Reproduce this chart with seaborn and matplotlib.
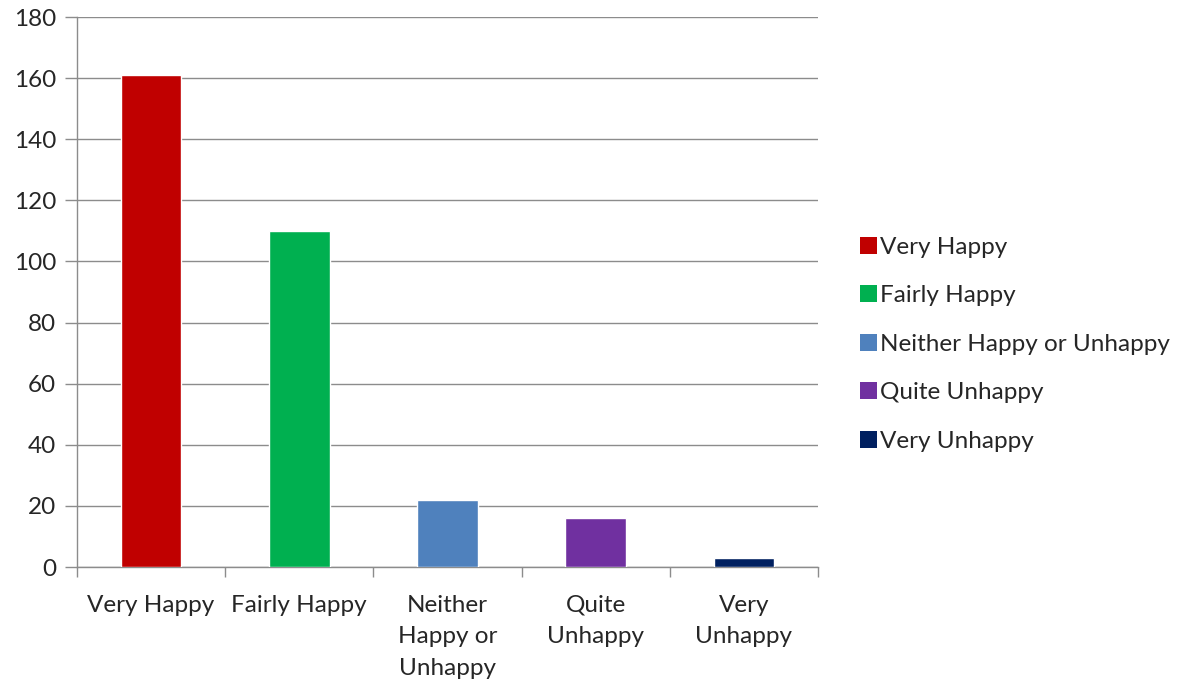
import matplotlib
matplotlib.use("Agg")
import matplotlib.pyplot as plt
import seaborn as sns
import pandas as pd
from matplotlib.patches import Patch

categories = ["Very Happy", "Fairly Happy", "Neither Happy or Unhappy", "Quite Unhappy", "Very Unhappy"]
tick_labels = ["Very Happy", "Fairly Happy", "Neither\nHappy or\nUnhappy", "Quite\nUnhappy", "Very\nUnhappy"]
counts = [161, 110, 22, 16, 3]
colors = ["#c00000", "#00b050", "#4f81bd", "#7030a0", "#002060"]
y_ticks = [0, 20, 40, 60, 80, 100, 120, 140, 160, 180]

sns.set_theme(style="white")
plt.rcParams["font.family"] = ["Lato", "DejaVu Sans"]

df = pd.DataFrame({"category": categories, "count": counts})

fig = plt.figure(figsize=(11.84, 6.84), dpi=100)
ax = fig.add_axes([77 / 1184, 1 - 567 / 684, (818 - 77) / 1184, (567 - 17) / 684])

sns.barplot(data=df, x="category", y="count", hue="category", palette=colors,
            order=categories, hue_order=categories, dodge=False, width=0.41,
            saturation=1, legend=False, ax=ax, zorder=3)

grid_color = "#8c8c8c"
text_color = "#262626"
fs = 17.5
ax.set_ylim(0, 180)
ax.set_yticks(y_ticks)
ax.set_xlim(-0.5, len(categories) - 0.5)
ax.yaxis.grid(True, color=grid_color, linewidth=1.0, zorder=0)
ax.set_axisbelow(True)

# Category boundaries carry the x tick marks; labels sit at the centres
ax.set_xticks([i - 0.5 for i in range(len(categories) + 1)])
ax.set_xticklabels([])
ax.set_xticks(range(len(categories)), minor=True)
ax.set_xticklabels(tick_labels, minor=True, fontsize=fs, color=text_color,
                   linespacing=1.62, va="top")
ax.tick_params(axis="x", which="minor", length=0, pad=20)
ax.tick_params(axis="x", which="major", length=7, width=1.0, color=grid_color,
               direction="out", bottom=True)
ax.tick_params(axis="y", length=9, width=1.0, color=grid_color, direction="out",
               left=True, labelsize=fs, labelcolor=text_color, pad=6)

ax.set_xlabel("")
ax.set_ylabel("")
for side in ["top", "right"]:
    ax.spines[side].set_visible(False)
for side in ["left", "bottom"]:
    ax.spines[side].set_color(grid_color)
    ax.spines[side].set_linewidth(1.0)

handles = [Patch(facecolor=c, edgecolor="none") for c in colors]
fig.legend(handles, categories, loc="upper left", bbox_to_anchor=(850 / 1184, 1 - 227 / 684),
           frameon=False, fontsize=fs, labelcolor=text_color, handlelength=0.7,
           handleheight=0.7, handletextpad=0.12, labelspacing=1.13, borderaxespad=0)

fig.savefig("out.png", dpi=100, facecolor="white")
